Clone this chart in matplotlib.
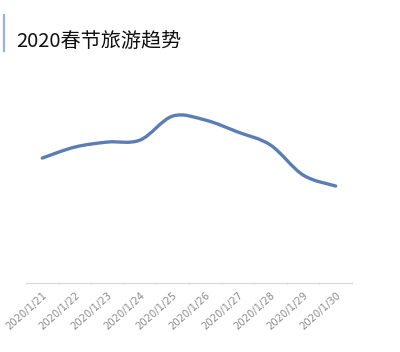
import numpy as np
import matplotlib.pyplot as plt
from matplotlib.path import Path
from matplotlib.patches import PathPatch

plt.rcParams["font.family"] = ["Noto Sans CJK SC", "DejaVu Sans"]

dates = ["2020/1/21", "2020/1/22", "2020/1/23", "2020/1/24", "2020/1/25",
         "2020/1/26", "2020/1/27", "2020/1/28", "2020/1/29", "2020/1/30"]
values = [125, 136, 141, 143, 167, 163, 151, 138, 108, 97]

LINE = "#5A7DB3"
AXIS = "#D9D9D9"


def smooth_path(xs, ys, t=0.5):
    # catmull-rom style bezier segments, like a spreadsheet "smoothed line"
    xs, ys = np.asarray(xs, float), np.asarray(ys, float)
    n = len(xs)
    verts = [(xs[0], ys[0])]
    codes = [Path.MOVETO]
    for i in range(n - 1):
        i0, i3 = max(i - 1, 0), min(i + 2, n - 1)
        c1 = (xs[i] + (xs[i + 1] - xs[i0]) * t / 3, ys[i] + (ys[i + 1] - ys[i0]) * t / 3)
        c2 = (xs[i + 1] - (xs[i3] - xs[i]) * t / 3, ys[i + 1] - (ys[i3] - ys[i]) * t / 3)
        verts += [c1, c2, (xs[i + 1], ys[i + 1])]
        codes += [Path.CURVE4] * 3
    return Path(verts, codes)


fig = plt.figure(figsize=(4, 3.52), dpi=100)
fig.patch.set_facecolor("white")
ax = fig.add_axes([0.065, 0.196, 0.815, 0.568])

x = np.arange(len(dates))
ax.add_patch(PathPatch(smooth_path(x, values), facecolor="none",
                       edgecolor=LINE, lw=2.4, capstyle="round"))
ax.set_xlim(-0.5, len(dates) - 0.5)
ax.set_ylim(0, 200)

for side in ["top", "right", "left"]:
    ax.spines[side].set_visible(False)
ax.spines["bottom"].set_color(AXIS)
ax.spines["bottom"].set_linewidth(0.8)
ax.set_yticks([])

ax.set_xticks(x)
ax.set_xticklabels(dates, rotation=42, ha="right", va="top",
                   rotation_mode="anchor", fontsize=7.2, color="#8C8C8C",
                   family="DejaVu Sans")
ax.tick_params(axis="x", which="major", length=0, pad=5)
ax.set_xticks(np.arange(-0.5, len(dates), 1), minor=True)
ax.tick_params(axis="x", which="minor", length=2, color=AXIS, direction="inout")

fig.text(0.04, 0.882, "2020春节旅游趋势", fontsize=14.5, color="#111111",
         va="center", ha="left", fontweight="medium")
fig.add_artist(plt.Line2D([0.0095, 0.0095], [0.855, 0.958], color="#9AB3D5",
                          lw=1.6, transform=fig.transFigure))

plt.savefig("out.png", dpi=100, facecolor="white")
